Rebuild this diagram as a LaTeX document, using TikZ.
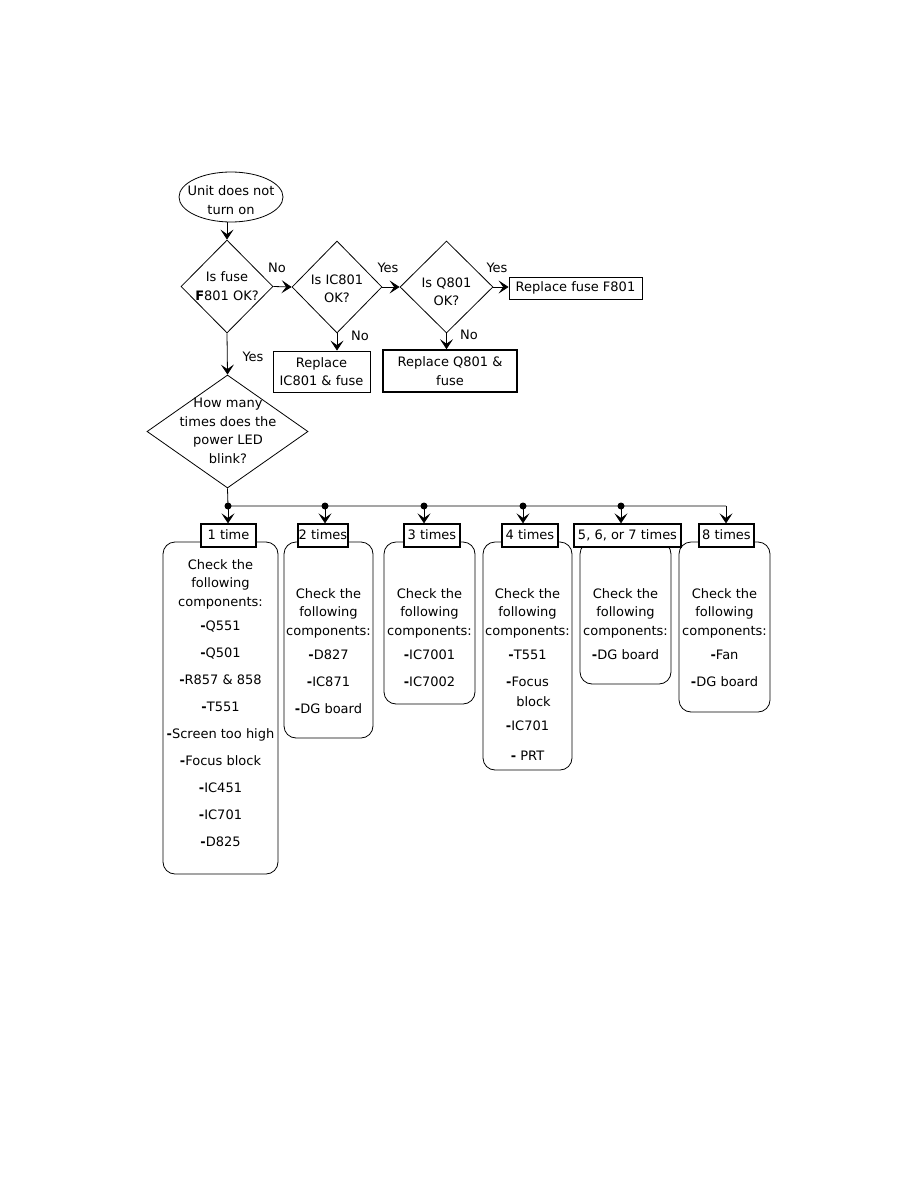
\documentclass[tikz,border=0pt]{standalone}
\usepackage{fontspec}
\setmainfont{DejaVu Sans}
\usetikzlibrary{shapes.geometric,arrows.meta}
\newcommand{\mydash}{\textbf{-}}
\begin{document}
\begin{tikzpicture}[x=1pt,y=-1pt,
  every node/.style={font=\fontsize{13}{18.5}\selectfont, inner sep=0pt},
  ln/.style={line width=0.8pt},
  arr/.style={ln,-{Stealth[length=10pt,width=13pt,inset=4.5pt]}},
  dia/.style={shape=diamond, draw, ln, inner sep=0pt},
  txt/.style={align=center},
  rbox/.style={draw, ln, rounded corners=12pt},
  lbox/.style={draw, line width=1.2pt, fill=white, minimum height=23pt, text height=10pt, text depth=3pt},
  sbox/.style={draw, ln, align=center},
  lbl/.style={font=\fontsize{13}{16}\selectfont},
  dot/.style={circle, fill=black, minimum size=7pt, inner sep=0pt}
]
\path[use as bounding box] (0,0) rectangle (918,1188);
\fill[white] (0,0) rectangle (918,1188);

% start
\node[ellipse, draw, ln, minimum width=104pt, minimum height=50pt] (start) at (231,197) {};
\node[txt] (startt) at (231,200) {Unit does not\\turn on};

% diamonds
\node[dia, minimum width=92pt, minimum height=93pt] (d1) at (227,286.5) {};
\node[txt] (d1t) at (227,286) {Is fuse\\\textbf{F}801 OK?};
\node[dia, minimum width=90pt, minimum height=92pt] (d2) at (337,287) {};
\node[txt] (d2t) at (337,289) {Is IC801\\OK?};
\node[dia, minimum width=93pt, minimum height=92pt] (d3) at (446.5,287) {};
\node[txt] (d3t) at (446.5,292) {Is Q801\\OK?};
\node[dia, minimum width=161pt, minimum height=113pt] (d4) at (227.5,431.5) {};
\node[txt] (d4t) at (228,431) {How many\\times does the\\power LED\\blink?};

% result boxes
\node[sbox, minimum width=133pt, minimum height=22pt] (rf) at (575.5,288) {Replace fuse F801};
\node[sbox, minimum width=97pt, minimum height=41pt] (ric) at (321.5,371.5) {Replace\\IC801 \& fuse};
\node[draw, line width=1.6pt, align=center, minimum width=134pt, minimum height=42pt] (rq) at (450,371) {Replace Q801 \&\\fuse};

% arrows top
\draw[arr] (start.south -| d1.north) -- (d1.north);
\draw[arr] (d1.east) -- (d2.west);
\draw[arr] (d2.east) -- (d3.west);
\draw[arr] (d3.east) -- (d3.east -| rf.west);
\draw[arr] (d2.south) -- (d2.south |- ric.north);
\draw[arr] (d3.south) -- (d3.south |- rq.north);
\draw[arr] (d1.south) -- (d4.north);

% labels
\node[lbl] (no1) at (277,268) {No};
\node[lbl] (yes1) at (388,268) {Yes};
\node[lbl] (yes2) at (497,268) {Yes};
\node[lbl] (no2) at (360,336) {No};
\node[lbl] (no3) at (469,335) {No};
\node[lbl] (yes3) at (253,357) {Yes};

% rounded boxes
\node[rbox, minimum width=115pt, minimum height=332pt] (b1) at (220.5,708) {};
\node[rbox, minimum width=89pt, minimum height=196pt] (b2) at (328.5,640) {};
\node[rbox, minimum width=91pt, minimum height=162pt] (b3) at (429.5,623) {};
\node[rbox, minimum width=89pt, minimum height=228pt] (b4) at (527.5,656) {};
\node[rbox, minimum width=91pt, minimum height=142pt] (b5) at (625.5,613) {};
\node[rbox, minimum width=91pt, minimum height=170pt] (b8) at (724.5,627) {};

% label boxes
\node[lbox, minimum width=55pt] (l1) at (228.5,535.5) {1 time};
\node[lbox, minimum width=50pt] (l2) at (323,535.5) {2 times};
\node[lbox, minimum width=56pt] (l3) at (432,535.5) {3 times};
\node[lbox, minimum width=56pt] (l4) at (530,535.5) {4 times};
\node[lbox, minimum width=107pt] (l5) at (627.5,535.5) {5, 6, or 7 times};
\node[lbox, minimum width=55pt] (l8) at (726.5,535.5) {8 times};

% branch
\coordinate (h1) at (228,506);
\coordinate (h2) at (325,506);
\coordinate (h3) at (424,506);
\coordinate (h4) at (523,506);
\coordinate (h5) at (621,506);
\coordinate (h8) at (726,506);
\draw[ln] (d4.south) -- (h1) -- (h8);
\draw[arr] (h1) -- (h1 |- l1.north);
\draw[arr] (h2) -- (h2 |- l2.north);
\draw[arr] (h3) -- (h3 |- l3.north);
\draw[arr] (h4) -- (h4 |- l4.north);
\draw[arr] (h5) -- (h5 |- l5.north);
\draw[arr] (h8) -- (h8 |- l8.north);
\node[dot] (p1) at (h1) {};
\node[dot] (p2) at (h2) {};
\node[dot] (p3) at (h3) {};
\node[dot] (p4) at (h4) {};
\node[dot] (p5) at (h5) {};

% box texts
\node[txt, anchor=north] (t1) at (220.5,559) {Check the\\following\\components:\\[5.5pt]\mydash Q551\\[8.5pt]\mydash Q501\\[8.5pt]\mydash R857 \& 858\\[8.5pt]\mydash T551\\[8.5pt]\mydash Screen too high\\[8.5pt]\mydash Focus block\\[8.5pt]\mydash IC451\\[8.5pt]\mydash IC701\\[8.5pt]\mydash D825};
\node[txt, anchor=north] (t2) at (328.5,588) {Check the\\following\\components:\\[5.5pt]\mydash D827\\[8.5pt]\mydash IC871\\[8.5pt]\mydash DG board};
\node[txt, anchor=north] (t3) at (429.5,588) {Check the\\following\\components:\\[5.5pt]\mydash IC7001\\[8.5pt]\mydash IC7002};
\node[txt, anchor=north] (t4) at (527.5,588) {Check the\\following\\components:\\[5.5pt]\mydash T551\\[8.5pt]\mydash Focus\\[1.5pt]\hspace*{12pt}block\\[5.5pt]\mydash IC701\\[11.5pt]\mydash{} PRT};
\node[txt, anchor=north] (t5) at (625.5,588) {Check the\\following\\components:\\[5.5pt]\mydash DG board};
\node[txt, anchor=north] (t8) at (724.5,588) {Check the\\following\\components:\\[5.5pt]\mydash Fan\\[8.5pt]\mydash DG board};
\end{tikzpicture}
\end{document}
